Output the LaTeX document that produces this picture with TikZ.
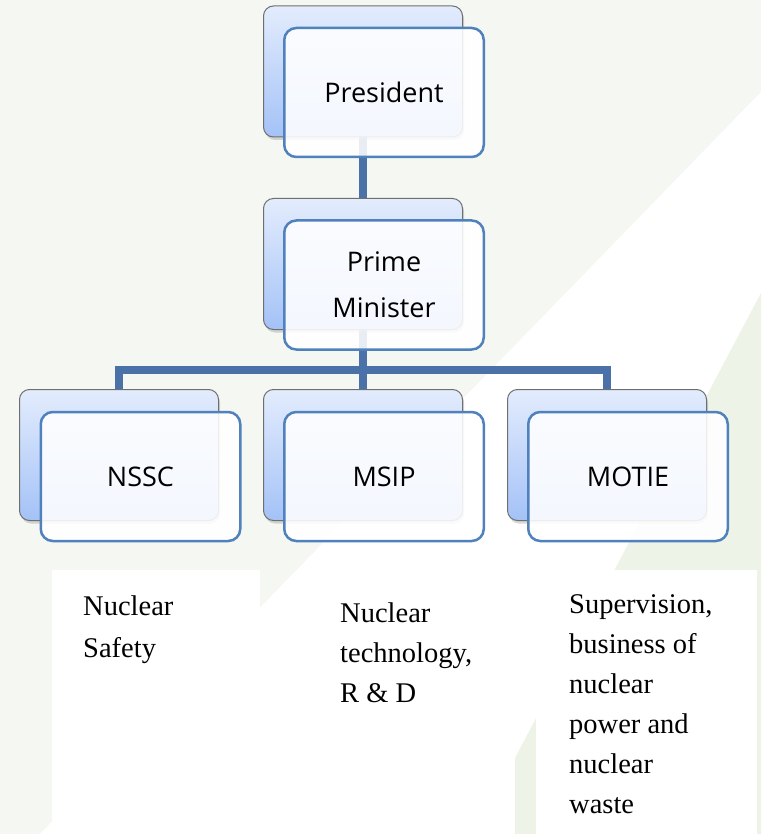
\documentclass[tikz,border=0pt]{standalone}
\usepackage{fontspec}
\setmainfont{Liberation Serif}
\newfontfamily\chartfont{Open Sans}
\usepackage{xcolor}
\usetikzlibrary{shadows,backgrounds}
\definecolor{paleground}{HTML}{F5F7F2}
\definecolor{palegreen}{HTML}{EEF3E7}
\definecolor{backtop}{HTML}{E3ECFD}
\definecolor{backbottom}{HTML}{A4C2F7}
\definecolor{backedge}{HTML}{6F6F6F}
\definecolor{frontedge}{HTML}{4F81BD}
\definecolor{linkblue}{HTML}{4A72A8}

\begin{document}
\begin{tikzpicture}[x=1pt, y=-1pt,
  backbox/.style={draw=backedge, line width=1pt, rounded corners=10pt, top color=backtop, bottom color=backbottom, minimum width=199pt, minimum height=131pt, drop shadow={shadow xshift=1.5pt, shadow yshift=-3pt, opacity=0.3}},
  frontbox/.style={draw=frontedge, line width=2.5pt, rounded corners=12pt, fill=white, fill opacity=0.88, text opacity=1, minimum width=199.5pt, minimum height=129pt, align=center, font=\chartfont\fontsize{27}{46}\selectfont},
  link/.style={draw=linkblue, line width=8pt},
  note/.style={anchor=north west, inner sep=0pt, align=left, font=\fontsize{28.5}{40}\selectfont}]
  \useasboundingbox (0,0) rectangle (761,834);
  % back cards
  \node[backbox] (presBack) at (363,71.5) {};
  \node[backbox] (pmBack) at (363,264) {};
  \node[backbox] (nsscBack) at (119,455) {};
  \node[backbox] (msipBack) at (363,455) {};
  \node[backbox] (motieBack) at (607,455) {};
  % front cards
  \node[frontbox] (pres) at (384,92.5) {President};
  \node[frontbox] (pm) at (384,285) {Prime\\Minister};
  \node[frontbox] (nssc) at (140.5,476.5) {NSSC};
  \node[frontbox] (msip) at (384,476.5) {MSIP};
  \node[frontbox] (motie) at (628,476.5) {MOTIE};
  % notes under the ministries
  \fill[white] (52,570) rectangle (260,834);
  \fill[white] (536,570) rectangle (757,834);
  \node[note, font=\fontsize{28.5}{42}\selectfont] (nsscNote) at (83,596) {Nuclear\\Safety};
  \node[note] (msipNote) at (340,603) {Nuclear\\technology,\\R \& D};
  \node[note] (motieNote) at (569,594) {Supervision,\\business of\\nuclear\\power and\\nuclear\\waste};
  \begin{scope}[on background layer]
    \fill[paleground] (0,0) rectangle (761,834);
    \fill[white] (761,92) -- (761,834) -- (40,834) -- cycle;
    \fill[palegreen] (761,293) -- (515,758) -- (515,834) -- (761,834) -- cycle;
    \coordinate (fork) at (363,370);
    \draw[link] (presBack.south) -- (pmBack.north);
    \draw[link] (pmBack.south) -- (fork);
    \draw[link] (nsscBack.north) |- (fork) -| (motieBack.north);
    \draw[link] (fork) -- (msipBack.north);
  \end{scope}
\end{tikzpicture}
\end{document}
